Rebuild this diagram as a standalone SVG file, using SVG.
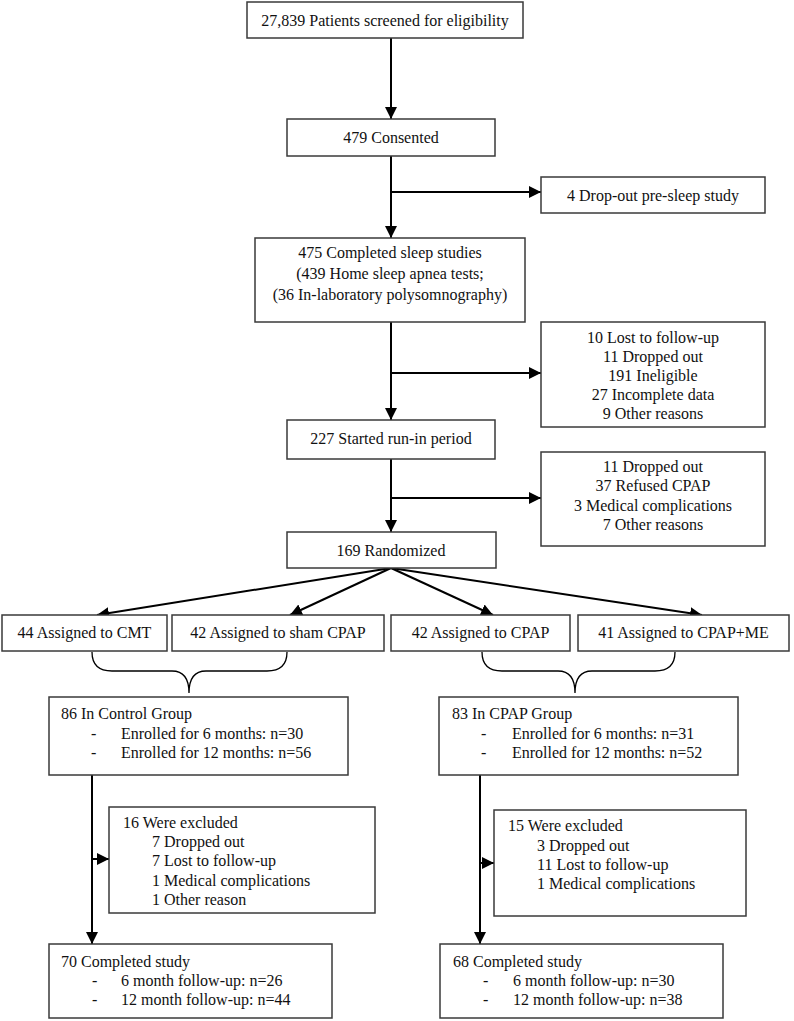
<svg xmlns="http://www.w3.org/2000/svg" width="794" height="1021" viewBox="0 0 794 1021">
<style>
.box{fill:#fff;stroke:#3a3a3a;stroke-width:1.5}
.t{font-family:"Liberation Serif","Times New Roman",serif;font-size:16px;fill:#111}
.c{text-anchor:middle}
.ln{fill:none;stroke:#000;stroke-width:2}
.br{fill:none;stroke:#000;stroke-width:1.3}
</style>
<defs>
<marker id="ah" markerUnits="userSpaceOnUse" markerWidth="14" markerHeight="12" refX="12" refY="6" orient="auto">
<path d="M0,0 L12,6 L0,12 z" fill="#000"/>
</marker>
</defs>
<rect width="794" height="1021" fill="#fff"/>
<g id="connectors">
<line class="ln" x1="391" y1="38" x2="391" y2="119" marker-end="url(#ah)"/>
<line class="ln" x1="391" y1="156" x2="391" y2="238" marker-end="url(#ah)"/>
<line class="ln" x1="391" y1="192" x2="541" y2="192" marker-end="url(#ah)"/>
<line class="ln" x1="391" y1="322" x2="391" y2="420" marker-end="url(#ah)"/>
<line class="ln" x1="391" y1="373" x2="541" y2="373" marker-end="url(#ah)"/>
<line class="ln" x1="391" y1="459" x2="391" y2="532" marker-end="url(#ah)"/>
<line class="ln" x1="391" y1="498" x2="541" y2="498" marker-end="url(#ah)"/>
<line class="ln" x1="391" y1="568" x2="97" y2="615" marker-end="url(#ah)"/>
<line class="ln" x1="391" y1="568" x2="290" y2="615" marker-end="url(#ah)"/>
<line class="ln" x1="391" y1="568" x2="493" y2="615" marker-end="url(#ah)"/>
<line class="ln" x1="391" y1="568" x2="702" y2="615" marker-end="url(#ah)"/>
<path class="br" d="M92,652 Q92,671 112,671 L172,671 Q189,671 189,693 Q189,671 206,671 L267,671 Q287,671 287,652"/>
<path class="br" d="M482,652 Q482,671 502,671 L558,671 Q575,671 575,693 Q575,671 592,671 L655,671 Q675,671 675,652"/>
<line class="ln" x1="92" y1="775" x2="92" y2="944" marker-end="url(#ah)"/>
<line class="ln" x1="92" y1="859" x2="109" y2="859" marker-end="url(#ah)"/>
<line class="ln" x1="480" y1="775" x2="480" y2="944" marker-end="url(#ah)"/>
<line class="ln" x1="480" y1="863" x2="494" y2="863" marker-end="url(#ah)"/>
</g>
<g id="n1"><rect class="box" x="247" y="2" width="276" height="36"/><text class="t c" x="385" y="26">27,839 Patients screened for eligibility</text></g>
<g id="n2"><rect class="box" x="287" y="119" width="208" height="37"/><text class="t c" x="391" y="143">479 Consented</text></g>
<g id="n3"><rect class="box" x="541" y="177" width="224" height="36"/><text class="t c" x="653" y="201">4 Drop-out pre-sleep study</text></g>
<g id="n4"><rect class="box" x="255" y="238" width="270" height="84"/>
<text class="t c" x="390" y="258">475 Completed sleep studies</text>
<text class="t c" x="390" y="279">(439 Home sleep apnea tests;</text>
<text class="t c" x="390" y="300">(36 In-laboratory polysomnography)</text></g>
<g id="n5"><rect class="box" x="541" y="322" width="224" height="105"/>
<text class="t c" x="653" y="343">10 Lost to follow-up</text>
<text class="t c" x="653" y="362">11 Dropped out</text>
<text class="t c" x="653" y="381">191 Ineligible</text>
<text class="t c" x="653" y="400">27 Incomplete data</text>
<text class="t c" x="653" y="419">9 Other reasons</text></g>
<g id="n6"><rect class="box" x="287" y="420" width="208" height="39"/><text class="t c" x="391" y="444">227 Started run-in period</text></g>
<g id="n7"><rect class="box" x="541" y="452" width="224" height="94"/>
<text class="t c" x="653" y="472">11 Dropped out</text>
<text class="t c" x="653" y="491">37 Refused CPAP</text>
<text class="t c" x="653" y="511">3 Medical complications</text>
<text class="t c" x="653" y="530">7 Other reasons</text></g>
<g id="n8"><rect class="box" x="287" y="532" width="209" height="36"/><text class="t c" x="391" y="556">169 Randomized</text></g>
<g id="n9"><rect class="box" x="2" y="615" width="165" height="36"/><text class="t c" x="84.5" y="638">44 Assigned to CMT</text></g>
<g id="n10"><rect class="box" x="172" y="615" width="212" height="36"/><text class="t c" x="278" y="638">42 Assigned to sham CPAP</text></g>
<g id="n11"><rect class="box" x="391" y="615" width="179" height="36"/><text class="t c" x="480.5" y="638">42 Assigned to CPAP</text></g>
<g id="n12"><rect class="box" x="578" y="615" width="211" height="36"/><text class="t c" x="683.5" y="638">41 Assigned to CPAP+ME</text></g>
<g id="n13"><rect class="box" x="49" y="697" width="299" height="78"/>
<text class="t" x="61" y="719">86 In Control Group</text>
<text class="t" x="91" y="739">-</text><text class="t" x="121" y="739">Enrolled for 6 months: n=30</text>
<text class="t" x="91" y="758">-</text><text class="t" x="121" y="758">Enrolled for 12 months: n=56</text></g>
<g id="n14"><rect class="box" x="439" y="697" width="299" height="78"/>
<text class="t" x="452" y="719">83 In CPAP Group</text>
<text class="t" x="481" y="739">-</text><text class="t" x="512" y="739">Enrolled for 6 months: n=31</text>
<text class="t" x="481" y="758">-</text><text class="t" x="512" y="758">Enrolled for 12 months: n=52</text></g>
<g id="n15"><rect class="box" x="109" y="807" width="266" height="106"/>
<text class="t" x="123" y="828">16 Were excluded</text>
<text class="t" x="152" y="847">7 Dropped out</text>
<text class="t" x="152" y="866">7 Lost to follow-up</text>
<text class="t" x="152" y="886">1 Medical complications</text>
<text class="t" x="152" y="905">1 Other reason</text></g>
<g id="n16"><rect class="box" x="494" y="810" width="252" height="106"/>
<text class="t" x="508" y="831">15 Were excluded</text>
<text class="t" x="537" y="851">3 Dropped out</text>
<text class="t" x="537" y="870">11 Lost to follow-up</text>
<text class="t" x="537" y="889">1 Medical complications</text></g>
<g id="n17"><rect class="box" x="49" y="944" width="283" height="74"/>
<text class="t" x="61" y="967">70 Completed study</text>
<text class="t" x="92" y="986">-</text><text class="t" x="121" y="986">6 month follow-up: n=26</text>
<text class="t" x="92" y="1005">-</text><text class="t" x="121" y="1005">12 month follow-up: n=44</text></g>
<g id="n18"><rect class="box" x="440" y="944" width="283" height="74"/>
<text class="t" x="453" y="967">68 Completed study</text>
<text class="t" x="483" y="986">-</text><text class="t" x="513" y="986">6 month follow-up: n=30</text>
<text class="t" x="483" y="1005">-</text><text class="t" x="513" y="1005">12 month follow-up: n=38</text></g>
</svg>
